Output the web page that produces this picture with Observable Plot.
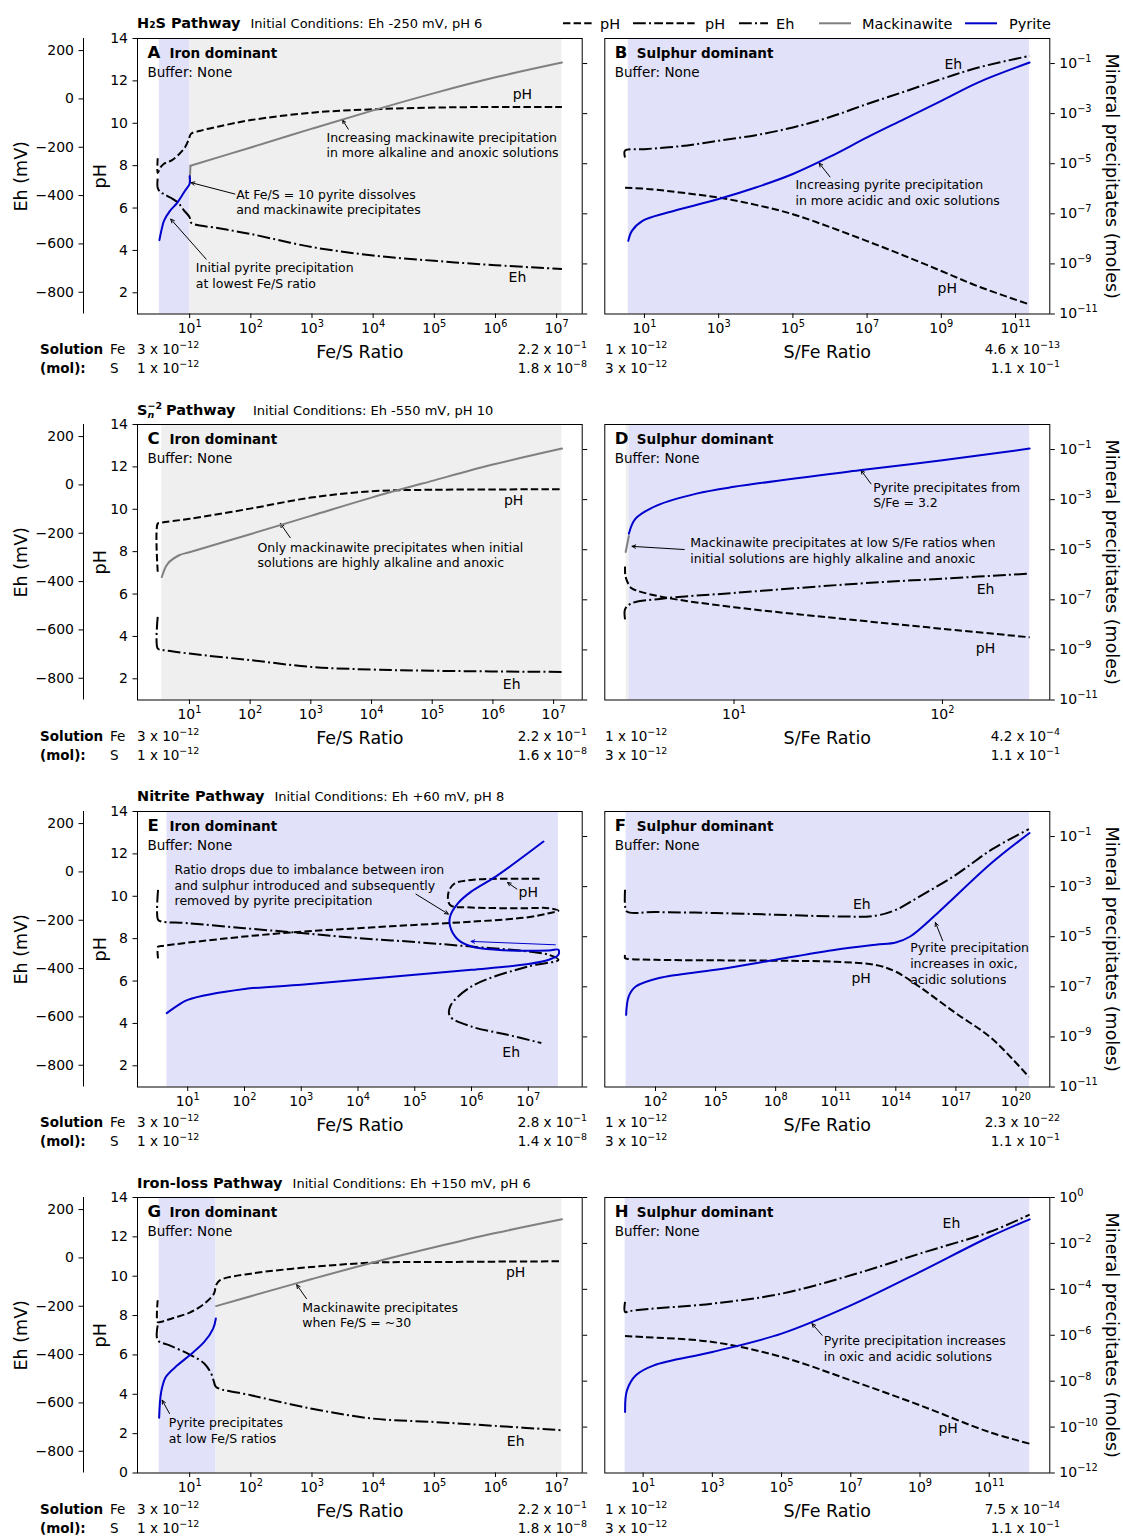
<!DOCTYPE html>
<html><head><meta charset="utf-8">
<script src="https://cdn.jsdelivr.net/npm/d3@7"></script>
<script src="https://cdn.jsdelivr.net/npm/@observablehq/plot@0.6"></script>
<style>
html,body{margin:0;padding:0;background:#fff;}
#page{position:relative;width:1123px;height:1538px;overflow:hidden;background:#fff;font-family:"DejaVu Sans",sans-serif;color:#000;}
#page svg{position:absolute;left:0;pointer-events:none;}
</style></head>
<body><div id="page"></div>
<script>
// ---------------- DATA (x = ratio, pH, Eh in mV, minerals as log10 moles; 3rd field = path segment) ----------------
const A_pH = [[3,8.35],[3,7.65],[3.3,7.9],[3.8,8.09],[5.07,8.25],[6.76,8.55],[8.4,8.87],[9.7,9.26],[10.5,9.5],[15,9.65],[30,9.85],[100,10.15],[1000,10.5],[1e4,10.66],[1e5,10.74],[1e6,10.77],[1.22e7,10.77]];
const A_Eh = [[3,-330],[3,-368],[3.3,-385],[3.8,-394],[5,-410],[6.5,-430],[8,-460],[10,-490],[10.5,-512],[30,-535],[100,-559],[1000,-613],[1e4,-648],[1e5,-670],[1e6,-688],[1.22e7,-704]];
const A_pyrite = [[3.2,-8.05],[3.5,-7.6],[3.8,-7.28],[4.7,-6.9],[6.3,-6.55],[8.4,-6.08],[10,-5.8],[10,-5.5]];
const A_mack = [[10,-5.75,"v"],[10.3,-5.08,"v"],[10.3,-5.08,"c"],[100,-4.35,"c"],[1000,-3.6,"c"],[1e4,-2.87,"c"],[1e5,-2.18,"c"],[1e6,-1.55,"c"],[1.22e7,-0.96,"c"]];
const A_shade = [[3.2,10,"p"],[10,1.22e7,"m"]];

const B_pH = [[3,6.96],[14,6.89],[1e3,6.49],[1e4,6.15],[1e5,5.71],[1e6,5.1],[1e7,4.44],[1e8,3.75],[1e9,3.03],[1e10,2.3],[2.39e11,1.45]];
const B_Eh = [[3,-242],[3,-214],[10,-208],[100,-195],[1e3,-173],[1e4,-150],[1e5,-118],[1e6,-75],[1e7,-21],[1e8,30],[1e9,82],[1e10,130],[2.39e11,178]];
const B_pyrite = [[3.67,-8.08],[4.6,-7.68],[8.9,-7.28],[42,-6.95],[1e3,-6.41],[1e4,-5.95],[1e5,-5.41],[1e6,-4.72],[1e7,-3.95],[1e8,-3.22],[1e9,-2.49],[1e10,-1.75],[2.39e11,-0.96]];
const B_mack = [];
const B_shade = [[3.67,2.39e11,"p"]];

const C_pH = [[3,7.05],[3,9.32],[3.3,9.36],[10,9.55],[100,10.03],[1e3,10.55],[1e4,10.85],[1e5,10.92],[1.375e7,10.94]];
const C_Eh = [[3,-546],[3,-677],[3.5,-682],[10,-698],[100,-725],[1e3,-753],[1e4,-764],[1e5,-769],[1.375e7,-774]];
const C_pyrite = [];
const C_mack = [[3.5,-6.09],[4.37,-5.56],[6.76,-5.22],[10,-5.1],[100,-4.38],[1e3,-3.65],[1e4,-2.92],[1e5,-2.25],[1e6,-1.6],[1.375e7,-0.96]];
const C_shade = [[3.5,1.375e7,"m"]];

const D_pH = [[3,7.3],[3.02,6.8],[3.2,6.3],[3.4,6.17],[4.6,5.85],[10,5.38],[40,4.75],[100,4.36],[262,3.96]];
const D_Eh = [[3,-556],[3,-515],[3.2,-491],[4.6,-470],[10,-447],[40,-408],[100,-388],[262,-367]];
const D_pyrite = [[3.13,-4.36],[3.37,-3.76],[4.28,-3.23],[6.6,-2.76],[10,-2.49],[40,-1.83],[100,-1.43],[262,-0.96]];
const D_mack = [[3.02,-5.09],[3.13,-4.45]];
const D_shade = [[3.04,3.14,"m"],[3.14,262,"p"]];

const E_pH = [[3,7.07],[3,7.62],[3.4,7.65],[10,7.81],[100,8.1],[1e3,8.33],[1e4,8.49],[1e5,8.65],[1e6,8.8],[1e7,9.01],[2.3e7,9.2],[3.4e7,9.32],[2.3e7,9.44],[1e7,9.44],[1e6,9.47],[4.2e5,9.59],[3.9e5,10.14],[4.9e5,10.58],[1e6,10.77],[1.7e7,10.82]];
const E_Eh = [[3,-74],[3,-198],[3.4,-205],[10,-212],[100,-233],[1e3,-253],[1e4,-274],[1e5,-290],[1e6,-309],[1e7,-329],[2.3e7,-343],[3.4e7,-364],[1e7,-391],[1e6,-474],[4.2e5,-557],[4.2e5,-598],[1e6,-640],[4.3e6,-674],[1.7e7,-708]];
const E_pyrite = [[4.27,-8.05],[7.35,-7.68],[10,-7.52],[100,-7.09],[1e3,-6.92],[1e4,-6.72],[1e5,-6.52],[1e6,-6.32],[1e7,-6.09],[2.3e7,-5.92],[3.4e7,-5.72],[3.4e7,-5.52],[2.3e7,-5.55],[2.7e6,-5.52],[1e6,-5.39],[5.8e5,-5.12],[4.2e5,-4.59],[4.2e5,-4.19],[5.8e5,-3.66],[1e6,-3.19],[2.7e6,-2.59],[1.85e7,-1.2]];
const E_mack = [];
const E_shade = [[4.3,3.4e7,"p"]];

const F_pH = [[3,7.23],[3,7.08],[3.7,7.05],[100,7.0],[1e8,6.96],[1e11,6.91],[1e13,6.76],[1e14,6.44],[1.5e15,5.73],[1e17,4.48],[6e18,3.3],[4.4e20,1.48]];
const F_Eh = [[3,-74],[3,-136],[3.7,-164],[100,-166],[1e5,-170],[1e8,-177],[1e11,-184],[1e13,-181],[1e14,-157],[1.5e15,-102],[1e17,-12],[6e18,92],[4.4e20,177]];
const F_pyrite = [[3.4,-8.12],[4.6,-7.38],[10.3,-6.99],[150,-6.65],[1e5,-6.32],[1e8,-5.92],[1e11,-5.52],[1e13,-5.32],[1e14,-5.23],[5.2e14,-4.99],[1.2e16,-4.06],[6e18,-2.06],[4.78e20,-0.86]];
const F_mack = [];
const F_shade = [[3.4,4.78e20,"p"]];

const G_pH = [[3,8.78],[3,7.67],[3.3,7.67],[5.4,7.88],[10,8.15],[17.3,8.6],[25,9.12],[27,9.54],[31,9.79],[100,10.13],[1e3,10.47],[1e4,10.69],[1e5,10.72],[1.22e7,10.76]];
const G_Eh = [[3,-279],[3,-340],[4.7,-362],[10,-400],[17.3,-437],[22.5,-479],[25,-513],[27,-534],[100,-568],[1e3,-624],[1e4,-665],[1e5,-679],[1e6,-695],[1.22e7,-713]];
const G_pyrite = [[3.17,-9.59],[3.42,-8.47],[4.07,-7.82],[6.3,-7.31],[10,-6.87],[17.3,-6.29],[24.2,-5.71],[26.8,-5.27]];
const G_mack = [[27,-4.73],[100,-4.3],[1e3,-3.55],[1e4,-2.83],[1e5,-2.17],[1e6,-1.55],[1.22e7,-0.95]];
const G_shade = [[3.17,27,"p"],[27,1.22e7,"m"]];

const H_pH = [[3,6.96],[10,6.91],[1e3,6.66],[1e5,5.9],[1e7,4.71],[1e9,3.44],[1e11,2.08],[1.47e12,1.49]];
const H_Eh = [[3,-182],[3,-224],[4,-220],[10,-213],[1e3,-189],[1e5,-148],[1e7,-72],[1e9,18],[1e11,107],[1.47e12,179]];
const H_pyrite = [[3.02,-9.34],[3.41,-8.4],[6.2,-7.74],[20.5,-7.31],[1e3,-6.73],[1e5,-5.93],[1e7,-4.7],[1e9,-3.24],[1e11,-1.72],[1.47e12,-0.95]];
const H_mack = [];
const H_shade = [[3.02,1.47e12,"p"]];

// annotations: [x ratio, pH-scale y, text]; arrows: [x1, y1, x2, y2]
const A_notes = [[1726,9.36,"Increasing mackinawite precipitation\nin more alkaline and anoxic solutions"],[57.5,6.66,"At Fe/S = 10 pyrite dissolves\nand mackinawite precipitates"],[12.6,3.19,"Initial pyrite precipitation\nat lowest Fe/S ratio"]];
const A_arrows = [[3926,9.72,3162,10.15],[55,6.66,10.5,7.2],[18.6,3.59,4.9,5.48]];
const A_labels = [[2.75e6,11.34,"pH"],[2.29e6,2.71,"Eh"]];
const B_notes = [[1.17e5,7.13,"Increasing pyrite precipitation\nin more acidic and oxic solutions"]];
const B_arrows = [[1e6,7.47,5.1e5,8.12]];
const B_labels = [[2.1e9,12.79,"Eh"],[1.45e9,2.22,"pH"]];
const C_notes = [[132,8.22,"Only mackinawite precipitates when initial\nsolutions are highly alkaline and anoxic"]];
const C_arrows = [[457,8.66,316,9.32]];
const C_labels = [[2.19e6,10.42,"pH"],[2.04e6,1.74,"Eh"]];
const D_notes = [[46.5,11.05,"Pyrite precipitates from\nS/Fe = 3.2"],[6.17,8.43,"Mackinawite precipitates at low S/Fe ratios when\ninitial solutions are highly alkaline and anoxic"]];
const D_arrows = [[45.4,11.2,40.7,11.84],[5.77,8.1,3.24,8.25]];
const D_labels = [[161,6.22,"Eh"],[161,3.45,"pH"]];
const E_notes = [[5.85,11.28,"Ratio drops due to imbalance between iron\nand sulphur introduced and subsequently\nremoved by pyrite precipitation"]];
const E_arrows = [[1.05e5,10.1,3.9e5,9.16],[6.3e6,10.34,4.3e6,10.65]];
const E_blueArrows = [[3e7,7.71,9.8e5,7.87]];
const E_labels = [[1e7,10.18,"pH"],[5e6,2.63,"Eh"]];
const F_notes = [[5.2e14,7.58,"Pyrite precipitation\nincreases in oxic,\nacidic solutions"]];
const F_arrows = [[2.2e16,7.9,9.5e15,8.76]];
const F_labels = [[2e12,9.6,"Eh"],[1.86e12,6.14,"pH"]];
const G_notes = [[692,8.44,"Mackinawite precipitates\nwhen Fe/S = ~30"],[4.57,2.56,"Pyrite precipitates\nat low Fe/S ratios"]];
const G_arrows = [[813,8.86,562,9.57],[4.68,3.02,3.55,3.7]];
const G_labels = [[2.14e6,10.18,"pH"],[2.14e6,1.61,"Eh"]];
const H_notes = [[1.66e6,6.74,"Pyrite precipitation increases\nin oxic and acidic solutions"]];
const H_arrows = [[1.48e6,7.0,7.6e5,7.59]];
const H_labels = [[8.1e9,12.67,"Eh"],[6.5e9,2.26,"pH"]];

// tick values
const ticksFeS = [10,1e2,1e3,1e4,1e5,1e6,1e7];
const ticksSFeOdd = [10,1e3,1e5,1e7,1e9,1e11];
const ticksD = [10,100];
const ticksF = [1e2,1e5,1e8,1e11,1e14,1e17,1e20];
const ticksPH = [2,4,6,8,10,12,14];
const ticksPH0 = [0,2,4,6,8,10,12,14];
const ticksEh = [200,0,-200,-400,-600,-800];
const ticksMin = [1e-1,1e-3,1e-5,1e-7,1e-9,1e-11];
const ticksMinH = [1,1e-2,1e-4,1e-6,1e-8,1e-10,1e-12];

// titles & solution texts
const rowTitles = ["H₂S Pathway", "S Pathway", "Nitrite Pathway", "Iron-loss Pathway"];
const rowSubtitles = ["Initial Conditions: Eh -250 mV, pH 6","Initial Conditions: Eh -550 mV, pH 10","Initial Conditions: Eh +60 mV, pH 8","Initial Conditions: Eh +150 mV, pH 6"];
const solLeftStart = [[["3","-12"],["1","-12"]],[["3","-12"],["1","-12"]],[["3","-12"],["1","-12"]],[["3","-12"],["1","-12"]]];
const solLeftEnd = [[["2.2","-1"],["1.8","-8"]],[["2.2","-1"],["1.6","-8"]],[["2.8","-1"],["1.4","-8"]],[["2.2","-1"],["1.8","-8"]]];
const solRightStart = [[["1","-12"],["3","-12"]],[["1","-12"],["3","-12"]],[["1","-12"],["3","-12"]],[["1","-12"],["3","-12"]]];
const solRightEnd = [[["4.6","-13"],["1.1","-1"]],[["4.2","-4"],["1.1","-1"]],[["2.3","-22"],["1.1","-1"]],[["7.5","-14"],["1.1","-1"]]];
const legendItems = [["pH","dash"],["pH","combo"],["Eh","dashdot"],["Mackinawite","mack"],["Pyrite","pyrite"]];

// ---------------- LAYOUT ----------------
const W = 1123, FRAME_H = 275.5, PAD_T = 34, PAD_B = 70;
const ROW_TOP = [37.7, 424.2, 810.7, 1197.2];
const SIDES = {L:[137,581.7], R:[604.3,1049.3]};
const PH_DOM = [[1,14],[1,14],[1,14],[0,14]];
const M_DOM = [[1e-11,1],[1e-11,1],[1e-11,1],[1e-12,1]];
const EH_DOM = [-890,250];
const COL = {p:"#e1e1fa", m:"#efefef", pyrite:"#0000cd", mack:"#808080"};
const DASH = "7.4,3.2", DASHDOT = "12.8,3.2,2,3.2";
const FONT = "DejaVu Sans";

const panels = [
 {row:0, side:"L", letter:"A", dom:"Iron dominant", xlabel:"Fe/S Ratio", xdom:[10**0.147,10**7.418], xt:ticksFeS, pH:A_pH, Eh:A_Eh, pyr:A_pyrite, mack:A_mack, shade:A_shade, notes:A_notes, arrows:A_arrows, labels:A_labels},
 {row:0, side:"R", letter:"B", dom:"Sulphur dominant", xlabel:"S/Fe Ratio", xdom:[10**-0.068,10**11.923], xt:ticksSFeOdd, pH:B_pH, Eh:B_Eh, pyr:B_pyrite, mack:B_mack, shade:B_shade, notes:B_notes, arrows:B_arrows, labels:B_labels},
 {row:1, side:"L", letter:"C", dom:"Iron dominant", xlabel:"Fe/S Ratio", xdom:[10**0.144,10**7.471], xt:ticksFeS, pH:C_pH, Eh:C_Eh, pyr:C_pyrite, mack:C_mack, shade:C_shade, notes:C_notes, arrows:C_arrows, labels:C_labels},
 {row:1, side:"R", letter:"D", dom:"Sulphur dominant", xlabel:"S/Fe Ratio", xdom:[10**0.380,10**2.515], xt:ticksD, pH:D_pH, Eh:D_Eh, pyr:D_pyrite, mack:D_mack, shade:D_shade, notes:D_notes, arrows:D_arrows, labels:D_labels},
 {row:2, side:"L", letter:"E", dom:"Iron dominant", xlabel:"Fe/S Ratio", xdom:[10**0.115,10**7.95], xt:ticksFeS, pH:E_pH, Eh:E_Eh, pyr:E_pyrite, mack:E_mack, shade:E_shade, notes:E_notes, arrows:E_arrows, blue:E_blueArrows, labels:E_labels},
 {row:2, side:"R", letter:"F", dom:"Sulphur dominant", xlabel:"S/Fe Ratio", xdom:[10**-0.533,10**21.69], xt:ticksF, pH:F_pH, Eh:F_Eh, pyr:F_pyrite, mack:F_mack, shade:F_shade, notes:F_notes, arrows:F_arrows, labels:F_labels},
 {row:3, side:"L", letter:"G", dom:"Iron dominant", xlabel:"Fe/S Ratio", xdom:[10**0.147,10**7.418], xt:ticksFeS, pH:G_pH, Eh:G_Eh, pyr:G_pyrite, mack:G_mack, shade:G_shade, notes:G_notes, arrows:G_arrows, labels:G_labels},
 {row:3, side:"R", letter:"H", dom:"Sulphur dominant", xlabel:"S/Fe Ratio", xdom:[10**-0.107,10**12.75], xt:ticksSFeOdd, pH:H_pH, Eh:H_Eh, pyr:H_pyrite, mack:H_mack, shade:H_shade, notes:H_notes, arrows:H_arrows, labels:H_labels}
];

const SUPC = "⁻⁰¹²³⁴⁵⁶⁷⁸⁹", PLAIN = "-0123456789";
const sup = s => String(s).split("").map(c => PLAIN.includes(c) ? SUPC[PLAIN.indexOf(c)] : c).join("");
const pow10 = v => "10" + sup(Math.round(Math.log10(v)));
const minus = d => d < 0 ? "\u2212" + Math.abs(d) : String(d);
const NS = "http://www.w3.org/2000/svg";

// render "10ⁿ" tick labels as 10 + raised smaller exponent (like mathtext)
function raiseExponents(svg) {
  svg.querySelectorAll("text").forEach(t => {
    if (t.children.length) return;
    const m = t.textContent.match(/^10([⁻⁰¹²³⁴⁵⁶⁷⁸⁹]+)$/);
    if (!m) return;
    const e = m[1].split("").map(c => PLAIN[SUPC.indexOf(c)]).join("").replace("-", "\u2212");
    t.textContent = "";
    const a = document.createElementNS(NS, "tspan"); a.textContent = "10"; t.appendChild(a);
    const b = document.createElementNS(NS, "tspan"); b.setAttribute("dy", "-6"); b.setAttribute("font-size", "9.8"); b.textContent = e; t.appendChild(b);
  });
}

const page = document.getElementById("page");

function addLayer(p, yopts, marks) {
  const [x0, x1] = SIDES[p.side];
  const svg = Plot.plot({
    width: W, height: PAD_T + FRAME_H + PAD_B,
    marginTop: PAD_T, marginBottom: PAD_B, marginLeft: x0, marginRight: W - x1,
    style: {fontFamily: FONT, fontSize: "14px", background: "transparent", overflow: "visible", color: "black"},
    x: {type: "log", domain: p.xdom, axis: null},
    y: yopts,
    marks: marks.filter(Boolean)
  });
  raiseExponents(svg);
  svg.style.position = "absolute";
  svg.style.left = "0px";
  svg.style.top = (ROW_TOP[p.row] - PAD_T) + "px";
  page.appendChild(svg);
}

for (const p of panels) {
  const left = p.side === "L";
  const phDom = PH_DOM[p.row];
  // base layer: pH scale
  addLayer(p, {domain: phDom, axis: null}, [
    Plot.rect(p.shade, {x1: d => d[0], x2: d => d[1], y1: phDom[0], y2: phDom[1], fill: d => COL[d[2]]}),
    Plot.frame({stroke: "black", strokeWidth: 1}),
    Plot.axisX({anchor: "bottom", ticks: p.xt, tickFormat: pow10, tickSize: 4.5, tickPadding: 5, fontSize: 14, label: null}),
    Plot.text([p.xlabel], {text: d => d, frameAnchor: "bottom", dy: 44, lineAnchor: "bottom", textAnchor: "middle", fontSize: 17.5}),
    left ? Plot.axisY({anchor: "left", ticks: p.row === 3 ? ticksPH0 : ticksPH, tickFormat: d => String(d), tickSize: 4.5, tickPadding: 5, fontSize: 14, label: null}) : null,
    left ? Plot.text(["pH"], {text: d => d, frameAnchor: "left", dx: -37, rotate: -90, textAnchor: "middle", lineAnchor: "middle", fontSize: 17.5}) : null,
    Plot.text([p.letter], {text: d => d, frameAnchor: "top-left", dx: 10, dy: 19.5, lineAnchor: "bottom", textAnchor: "start", fontWeight: "bold", fontSize: 16.5}),
    Plot.text([p.dom], {text: d => d, frameAnchor: "top-left", dx: 32, dy: 19.5, lineAnchor: "bottom", textAnchor: "start", fontWeight: "bold", fontSize: 13.5}),
    Plot.text(["Buffer: None"], {text: d => d, frameAnchor: "top-left", dx: 10, dy: 38.5, lineAnchor: "bottom", textAnchor: "start", fontSize: 13.5}),
    Plot.text(p.notes, {x: d => d[0], y: d => d[1], text: d => d[2], textAnchor: "start", lineAnchor: "top", dy: -6.5, lineHeight: 1.26, fontSize: 12.5}),
    Plot.arrow(p.arrows, {x1: d => d[0], y1: d => d[1], x2: d => d[2], y2: d => d[3], stroke: "black", strokeWidth: 1, headLength: 6, headAngle: 50}),
    p.blue ? Plot.arrow(p.blue, {x1: d => d[0], y1: d => d[1], x2: d => d[2], y2: d => d[3], stroke: COL.pyrite, strokeWidth: 1, headLength: 6, headAngle: 50}) : null,
    Plot.text(p.labels, {x: d => d[0], y: d => d[1], text: d => d[2], textAnchor: "middle", lineAnchor: "middle", fontSize: 14}),
    Plot.line(p.pH, {x: d => d[0], y: d => d[1], stroke: "black", strokeWidth: 2, strokeDasharray: DASH, strokeLinecap: "butt", curve: "catmull-rom"})
  ]);
  // Eh layer (own linear scale; axis offset to the left on iron-dominant panels)
  addLayer(p, left ? {domain: EH_DOM} : {domain: EH_DOM, axis: null}, [
    left ? Plot.ruleX([p.xdom[0]], {dx: -54, stroke: "black", strokeWidth: 1}) : null,
    left ? Plot.axisY({anchor: "left", ticks: ticksEh, tickFormat: minus, dx: -54, tickSize: 4.5, tickPadding: 5, fontSize: 14, label: null}) : null,
    left ? Plot.text(["Eh (mV)"], {text: d => d, frameAnchor: "left", dx: -116, rotate: -90, textAnchor: "middle", lineAnchor: "middle", fontSize: 17.5}) : null,
    Plot.line(p.Eh, {x: d => d[0], y: d => d[1], stroke: "black", strokeWidth: 2, strokeDasharray: DASHDOT, strokeLinecap: "butt", curve: "catmull-rom"})
  ]);
  // mineral layer (log scale)
  const mt = p.row === 3 ? ticksMinH : ticksMin;
  addLayer(p, {type: "log", domain: M_DOM[p.row]}, [
    Plot.axisY({anchor: "right", ticks: mt, tickFormat: left ? () => "" : pow10, tickSize: 4.5, tickPadding: 5, fontSize: 14, label: null}),
    left ? null : Plot.text(["Mineral precipitates (moles)"], {text: d => d, frameAnchor: "right", dx: 62, rotate: 90, textAnchor: "middle", lineAnchor: "middle", fontSize: 17.5}),
    Plot.line(p.mack, {x: d => d[0], y: d => 10 ** d[1], z: d => d[2] || "c", stroke: COL.mack, strokeWidth: 2, curve: "catmull-rom"}),
    Plot.line(p.pyr, {x: d => d[0], y: d => 10 ** d[1], stroke: COL.pyrite, strokeWidth: 2, curve: "catmull-rom"})
  ]);
}

// ---------------- OVERLAY: titles, legend, solution amounts ----------------
const ov = d3.select(page).append("svg").attr("width", W).attr("height", 1538)
  .style("top", "0px").style("font-family", FONT).style("overflow", "visible");

ROW_TOP.forEach((T, r) => {
  const yb = T - 9.7;
  if (r === 1) {
    ov.append("text").attr("x", 137).attr("y", yb).attr("font-weight", "bold").attr("font-size", 14.5).text("S");
    ov.append("text").attr("x", 147.5).attr("y", yb - 5.5).attr("font-weight", "bold").attr("font-size", 9.5).text("\u22122");
    ov.append("text").attr("x", 147.5).attr("y", yb + 3.5).attr("font-weight", "bold").attr("font-style", "italic").attr("font-size", 9.5).text("n");
    ov.append("text").attr("x", 166).attr("y", yb).attr("font-weight", "bold").attr("font-size", 14.5).text("Pathway");
    ov.append("text").attr("x", 253).attr("y", yb).attr("font-size", 13).text(rowSubtitles[r]);
  } else {
    const t = ov.append("text").attr("x", 137).attr("y", yb);
    t.append("tspan").attr("font-weight", "bold").attr("font-size", 14.5).text(rowTitles[r]);
    t.append("tspan").attr("dx", 10).attr("font-size", 13).text(rowSubtitles[r]);
  }
  const y1 = T + 316.5, y2 = T + 335.5;
  ov.append("text").attr("x", 40).attr("y", y1).attr("font-weight", "bold").attr("font-size", 13.5).text("Solution");
  ov.append("text").attr("x", 40).attr("y", y2).attr("font-weight", "bold").attr("font-size", 13.5).text("(mol):");
  ov.append("text").attr("x", 110).attr("y", y1).attr("font-size", 13.5).text("Fe");
  ov.append("text").attr("x", 110).attr("y", y2).attr("font-size", 13.5).text("S");
  const sci = (x, y, pair, anchor) => {
    const t = ov.append("text").attr("x", x).attr("y", y).attr("font-size", 13.5).attr("text-anchor", anchor);
    t.append("tspan").text(pair[0] + " x 10");
    t.append("tspan").attr("dy", -6).attr("font-size", 9.5).text(pair[1].replace("-", "\u2212"));
  };
  [y1, y2].forEach((y, i) => {
    sci(137, y, solLeftStart[r][i], "start");
    sci(587, y, solLeftEnd[r][i], "end");
    sci(605, y, solRightStart[r][i], "start");
    sci(1060, y, solRightEnd[r][i], "end");
  });
});

// legend
const LEG_Y = 23.3;
const legPos = [[563, 592, 600], [633, 697, 705], [739, 768, 776], [819, 851, 862], [965, 997, 1009]];
legendItems.forEach(([label, kind], i) => {
  const [a, b, tx] = legPos[i];
  const line = (x1, x2, stroke, dash) => ov.append("line").attr("x1", x1).attr("x2", x2).attr("y1", LEG_Y).attr("y2", LEG_Y)
    .attr("stroke", stroke).attr("stroke-width", 2).attr("stroke-dasharray", dash || null);
  if (kind === "dash") line(a, b, "black", DASH);
  if (kind === "combo") { line(a, a + 30, "black", DASHDOT); line(a + 33, b, "black", DASH); }
  if (kind === "dashdot") line(a, b, "black", DASHDOT);
  if (kind === "mack") line(a, b, COL.mack);
  if (kind === "pyrite") line(a, b, COL.pyrite);
  ov.append("text").attr("x", tx).attr("y", LEG_Y + 5.2).attr("font-size", 14.5).text(label);
});
</script>
</body></html>
